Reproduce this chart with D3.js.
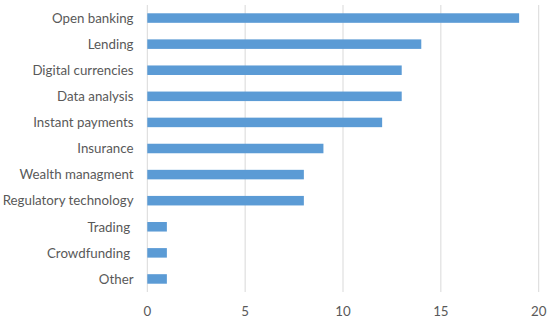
<!DOCTYPE html>
<html><head><meta charset="utf-8">
<script src="https://cdn.jsdelivr.net/npm/d3@7"></script>
<style>body{margin:0;background:#fff}svg text{white-space:pre}</style>
</head><body><svg id="c" width="550" height="321"></svg>
<script>
const categories = ["Open banking","Lending","Digital currencies","Data analysis","Instant payments","Insurance","Wealth managment","Regulatory technology","Trading ","Crowdfunding ","Other"];
const values = [19,14,13,13,12,9,8,8,1,1,1];
const xTicks = [0,5,10,15,20];

const svg = d3.select("#c");
const x = d3.scaleLinear().domain([0,20]).range([147.3,538.7]);
const y = d3.scaleBand().domain(categories).range([5,292]).paddingInner(0.635).paddingOuter(0.3175);
const font = "Lato, 'Open Sans', sans-serif";

svg.append("g").selectAll("line").data(xTicks).join("line")
  .attr("x1",d=>x(d)).attr("x2",d=>x(d)).attr("y1",5).attr("y2",292)
  .attr("stroke","#d9d9d9").attr("stroke-width",1);

svg.append("g").selectAll("rect").data(values).join("rect")
  .attr("x",x(0)).attr("y",(d,i)=>y(categories[i]))
  .attr("width",d=>x(d)-x(0)).attr("height",y.bandwidth())
  .attr("fill","#5b9bd5");

svg.append("g").selectAll("text").data(categories).join("text")
  .attr("x",133.5).attr("y",d=>y(d)+y.bandwidth()/2).attr("dy","0.36em")
  .attr("text-anchor","end").attr("font-family",font).attr("font-size",13.3)
  .attr("fill","#595959").text(d=>d);

svg.append("g").selectAll("text").data(xTicks).join("text")
  .attr("x",d=>x(d)).attr("y",316).attr("text-anchor","middle")
  .attr("font-family",font).attr("font-size",13.3).attr("fill","#595959").text(d=>d);
</script></body></html>
